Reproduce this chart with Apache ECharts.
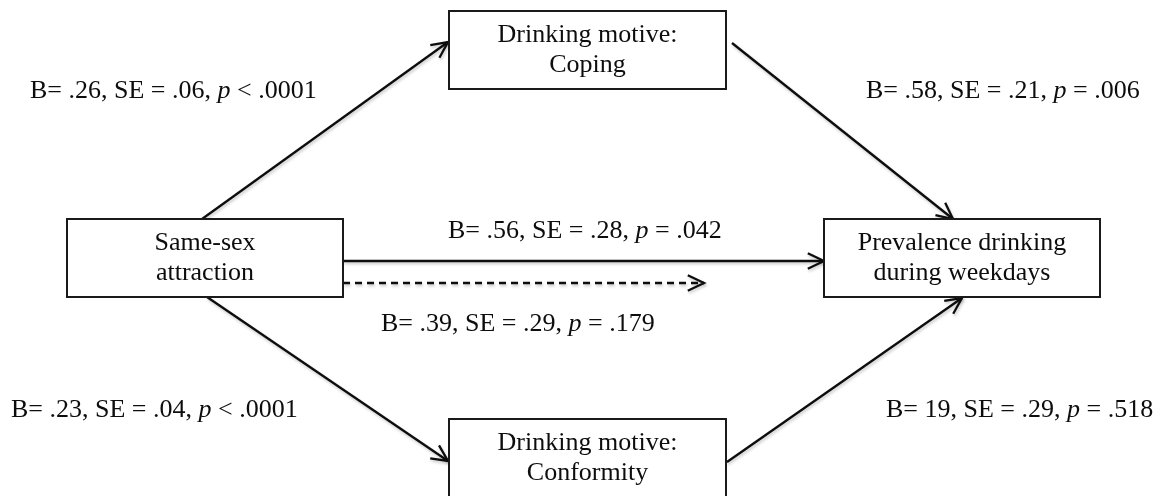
<!DOCTYPE html>
<html>
<head>
<meta charset="utf-8">
<script src="https://cdn.jsdelivr.net/npm/echarts@6/dist/echarts.min.js"></script>
<style>
  html, body { margin: 0; padding: 0; background: #fff; }
  #chart { width: 1168px; height: 496px; }
</style>
</head>
<body>
<div id="chart"></div>
<script>
// node captions
const nodeLabels = [
    'Same-sex\nattraction',
    'Drinking motive:\nCoping',
    'Drinking motive:\nConformity',
    'Prevalence drinking\nduring weekdays'
];

// path coefficients, in the order the labels appear
const coefB = ['.26', '.58', '.56', '.39', '.23', '19'];
const coefSE = ['.06', '.21', '.28', '.29', '.04', '.29'];
const coefP = ['< .0001', '= .006', '= .042', '= .179', '< .0001', '= .518'];

// layout in diagram units (same scale as the page)
const nodeBoxes = [
    [67, 219, 343, 297],
    [449, 11, 726, 89],
    [449, 419, 726, 498],
    [824, 219, 1100, 297]
];
const labelAnchors = [[30, 91], [866, 91], [448, 231], [381, 324], [11, 410], [886, 410]];
// arrows: x1, y1, x2, y2, dashed
const arrowPaths = [
    [202, 219, 448, 42, 0],
    [732, 43, 953, 219, 0],
    [343, 261, 824, 261, 0],
    [343, 283, 704, 283, 1],
    [207, 297, 448, 461, 0],
    [727, 462, 962, 298, 0]
];

const FONT = '"Liberation Serif", "Times New Roman", serif';
const INK = '#0d0d0d';

const chart = echarts.init(document.getElementById('chart'));

function renderBox(params, api) {
    const p0 = api.coord([api.value(0), api.value(1)]);
    const p1 = api.coord([api.value(2), api.value(3)]);
    return {
        type: 'group',
        children: [
            {
                type: 'rect',
                shape: { x: p0[0], y: p0[1], width: p1[0] - p0[0], height: p1[1] - p0[1] },
                style: { fill: '#fff', stroke: '#1a1a1a', lineWidth: 2 }
            },
            {
                type: 'text',
                x: (p0[0] + p1[0]) / 2,
                y: (p0[1] + p1[1]) / 2,
                style: {
                    text: nodeLabels[params.dataIndex],
                    fill: INK,
                    fontFamily: FONT,
                    fontSize: 26,
                    lineHeight: 30,
                    align: 'center',
                    verticalAlign: 'middle'
                }
            }
        ]
    };
}

function renderArrow(params, api) {
    const a = api.coord([api.value(0), api.value(1)]);
    const b = api.coord([api.value(2), api.value(3)]);
    const dashed = api.value(4) === 1;
    const ang = Math.atan2(b[1] - a[1], b[0] - a[0]);
    const len = 18, spread = 0.45;
    const w1 = [b[0] - len * Math.cos(ang - spread), b[1] - len * Math.sin(ang - spread)];
    const w2 = [b[0] - len * Math.cos(ang + spread), b[1] - len * Math.sin(ang + spread)];
    const shadow = {
        shadowBlur: 3,
        shadowColor: 'rgba(0,0,0,0.22)',
        shadowOffsetX: 1,
        shadowOffsetY: 2
    };
    return {
        type: 'group',
        children: [
            {
                type: 'line',
                shape: { x1: a[0], y1: a[1], x2: b[0], y2: b[1] },
                style: Object.assign({
                    stroke: INK,
                    lineWidth: 2.3,
                    lineDash: dashed ? [7, 5] : null
                }, shadow)
            },
            {
                type: 'polyline',
                shape: { points: [w1, b, w2] },
                style: Object.assign({ stroke: INK, lineWidth: 2.3, fill: null }, shadow)
            }
        ]
    };
}

function renderLabel(params, api) {
    const p = api.coord([api.value(0), api.value(1)]);
    const i = params.dataIndex;
    return {
        type: 'text',
        x: p[0],
        y: p[1],
        style: {
            text: 'B= ' + coefB[i] + ', SE = ' + coefSE[i] + ', {it|p} ' + coefP[i],
            fill: INK,
            fontFamily: FONT,
            fontSize: 26,
            align: 'left',
            verticalAlign: 'middle',
            rich: {
                it: { fontFamily: FONT, fontSize: 26, fontStyle: 'italic', fill: INK }
            }
        }
    };
}

const option = {
    animation: false,
    backgroundColor: '#fff',
    grid: { left: 0, right: 0, top: 0, bottom: 0 },
    xAxis: { type: 'value', min: 0, max: 1168, show: false },
    yAxis: { type: 'value', min: 0, max: 496, inverse: true, show: false },
    series: [
        {
            type: 'custom',
            name: 'arrows',
            clip: false,
            silent: true,
            renderItem: renderArrow,
            data: arrowPaths,
            z: 1
        },
        {
            type: 'custom',
            name: 'nodes',
            clip: false,
            silent: true,
            renderItem: renderBox,
            data: nodeBoxes,
            z: 2
        },
        {
            type: 'custom',
            name: 'coefficients',
            clip: false,
            silent: true,
            renderItem: renderLabel,
            data: labelAnchors,
            z: 3
        }
    ]
};

chart.setOption(option);

window.addEventListener('resize', () => {
    chart.resize();
});
</script>
</body>
</html>
